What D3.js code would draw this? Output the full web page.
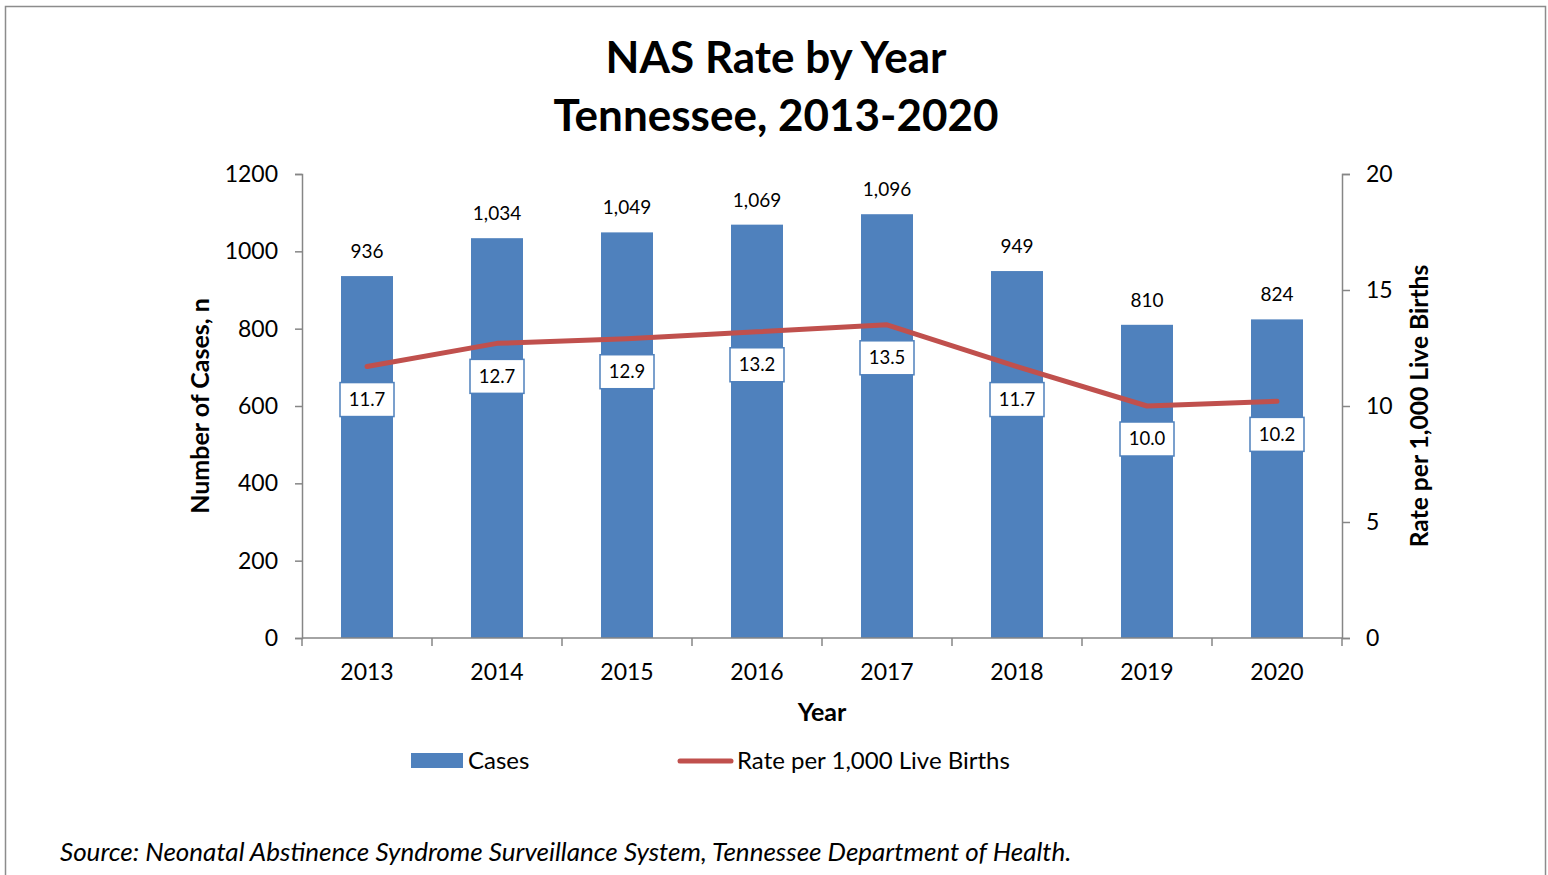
<!DOCTYPE html>
<html>
<head>
<meta charset="utf-8">
<script src="https://cdn.jsdelivr.net/npm/d3@7"></script>
<style>
  html, body { margin: 0; padding: 0; background: #fff; }
  svg { display: block; font-family: Lato, "Open Sans", sans-serif; }
</style>
</head>
<body>
<svg id="chart" width="1548" height="875"></svg>
<script>
// NAS cases and rate by year, Tennessee
const years = ["2013", "2014", "2015", "2016", "2017", "2018", "2019", "2020"];
const cases = [936, 1034, 1049, 1069, 1096, 949, 810, 824];
const rates = [11.7, 12.7, 12.9, 13.2, 13.5, 11.7, 10.0, 10.2];
const leftTicks = [0, 200, 400, 600, 800, 1000, 1200];
const rightTicks = [0, 5, 10, 15, 20];

const BAR = "#4f81bd", LINE = "#c0504d", AXIS = "#868686";
const svg = d3.select("#chart");

// outer frame
svg.append("rect").attr("x", 5.5).attr("y", 6.5).attr("width", 1540).attr("height", 880)
  .attr("fill", "none").attr("stroke", "#8c8c8c").attr("stroke-width", 1.5);

const plot = { left: 302, right: 1342, top: 174, bottom: 638 };

const x = d3.scaleBand().domain(years).range([plot.left, plot.right]);
const yL = d3.scaleLinear().domain([0, 1200]).range([plot.bottom, plot.top]);
const yR = d3.scaleLinear().domain([0, 20]).range([plot.bottom, plot.top]);
const barW = 52;

// title
svg.append("text").attr("x", 776).attr("y", 73).attr("text-anchor", "middle")
  .attr("font-size", 44).attr("font-weight", "bold").text("NAS Rate by Year");
svg.append("text").attr("x", 776).attr("y", 131).attr("text-anchor", "middle")
  .attr("font-size", 44).attr("font-weight", "bold").text("Tennessee, 2013-2020");

// bars
svg.append("g").selectAll("rect").data(years).join("rect")
  .attr("x", (d) => x(d) + x.bandwidth() / 2 - barW / 2)
  .attr("y", (d, i) => yL(cases[i]))
  .attr("width", barW)
  .attr("height", (d, i) => plot.bottom - yL(cases[i]))
  .attr("fill", BAR);

// bar value labels
svg.append("g").selectAll("text").data(years).join("text")
  .attr("x", (d) => x(d) + x.bandwidth() / 2)
  .attr("y", (d, i) => yL(cases[i]) - 18)
  .attr("text-anchor", "middle").attr("font-size", 19)
  .text((d, i) => d3.format(",")(cases[i]));

// axes
const styleAxis = (g) => {
  g.select(".domain").attr("stroke", AXIS).attr("stroke-width", 1.5);
  g.selectAll(".tick line").attr("stroke", AXIS).attr("stroke-width", 1.5);
  g.selectAll(".tick text").attr("fill", "#000").attr("font-size", 23)
    .attr("font-family", "Lato, 'Open Sans', sans-serif");
};

const gL = svg.append("g").attr("transform", `translate(${plot.left},0)`)
  .call(d3.axisLeft(yL).tickValues(leftTicks).tickSize(7).tickPadding(17).tickFormat(d3.format("d")));
styleAxis(gL);

const gR = svg.append("g").attr("transform", `translate(${plot.right},0)`)
  .call(d3.axisRight(yR).tickValues(rightTicks).tickSize(8).tickPadding(16).tickFormat(d3.format("d")));
styleAxis(gR);

const gX = svg.append("g").attr("transform", `translate(0,${plot.bottom})`)
  .call(d3.axisBottom(x).tickSize(0).tickPadding(26));
styleAxis(gX);
gX.select(".domain").attr("d", `M${plot.left},0H${plot.right}`);
// category separator ticks
const bounds = years.map((d) => x(d)).concat([plot.right]);
gX.append("g").selectAll("line").data(bounds).join("line")
  .attr("x1", (d) => d).attr("x2", (d) => d).attr("y1", 0).attr("y2", 8)
  .attr("stroke", AXIS).attr("stroke-width", 1.5);

// axis titles
svg.append("text").attr("x", 822).attr("y", 721).attr("text-anchor", "middle")
  .attr("font-size", 25).attr("font-weight", "bold").text("Year");
svg.append("text").attr("transform", "translate(209,406) rotate(-90)").attr("text-anchor", "middle")
  .attr("font-size", 25).attr("font-weight", "bold").text("Number of Cases, n");
svg.append("text").attr("transform", "translate(1428,406) rotate(-90)").attr("text-anchor", "middle")
  .attr("font-size", 24.6).attr("font-weight", "bold").text("Rate per 1,000 Live Births");

// rate line
const line = d3.line()
  .x((d, i) => x(years[i]) + x.bandwidth() / 2)
  .y((d) => yR(d));
svg.append("path").datum(rates).attr("d", line)
  .attr("fill", "none").attr("stroke", LINE).attr("stroke-width", 5)
  .attr("stroke-linecap", "round").attr("stroke-linejoin", "round");

// rate labels in boxes
const lab = svg.append("g").selectAll("g").data(rates).join("g")
  .attr("transform", (d, i) => `translate(${x(years[i]) + x.bandwidth() / 2},${yR(d) + 33})`);
lab.append("rect").attr("x", -27).attr("y", -17).attr("width", 54).attr("height", 34)
  .attr("fill", "#fff").attr("stroke", BAR).attr("stroke-width", 1.5);
lab.append("text").attr("text-anchor", "middle").attr("dy", "0.35em")
  .attr("font-size", 18.5).text((d) => d3.format(".1f")(d));

// legend
svg.append("rect").attr("x", 411).attr("y", 753).attr("width", 52).attr("height", 15).attr("fill", BAR);
svg.append("text").attr("x", 468).attr("y", 769).attr("font-size", 24).text("Cases");
svg.append("line").attr("x1", 680).attr("x2", 731).attr("y1", 761).attr("y2", 761)
  .attr("stroke", LINE).attr("stroke-width", 5).attr("stroke-linecap", "round");
svg.append("text").attr("x", 737).attr("y", 769).attr("font-size", 24).text("Rate per 1,000 Live Births");

// source note
svg.append("text").attr("x", 60).attr("y", 861).attr("font-size", 26).attr("font-style", "italic")
  .text("Source: Neonatal Abstinence Syndrome Surveillance System, Tennessee Department of Health.");
</script>
</body>
</html>
